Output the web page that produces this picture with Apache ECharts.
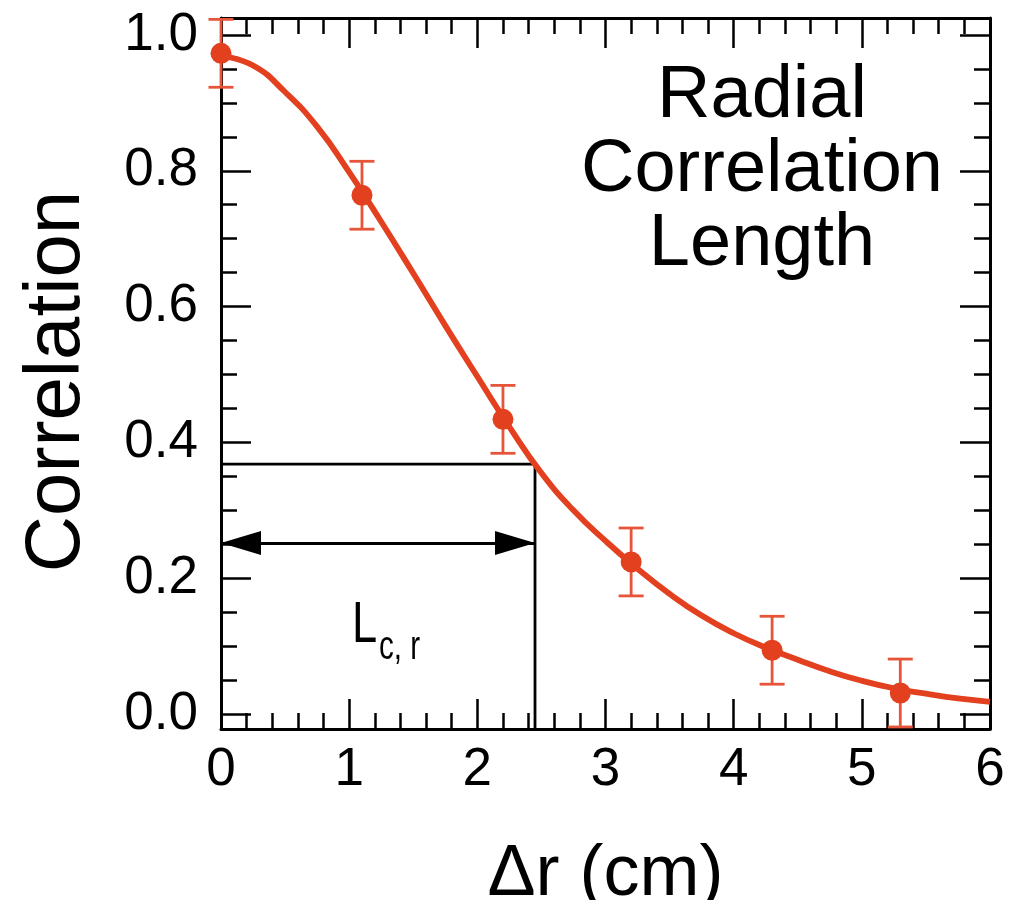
<!DOCTYPE html>
<html><head><meta charset="utf-8">
<script src="https://cdn.jsdelivr.net/npm/echarts@6/dist/echarts.min.js"></script>
<style>html,body{margin:0;padding:0;background:#fff}#c{width:1021px;height:900px}</style>
</head><body><div id="c"></div>
<script>
// ---- data ----
const pointX = [0, 1.1, 2.2, 3.2, 4.3, 5.3];
const pointY = [0.973, 0.764, 0.434, 0.224, 0.094, 0.031];
const pointErr = [0.05, 0.05, 0.05, 0.05, 0.05, 0.05];
const fitX = [0, 0.25, 0.5, 0.75, 1.0, 1.25, 1.5, 1.75, 2.0, 2.25, 2.5, 2.75, 3.0, 3.25, 3.5, 3.75, 4.0, 4.25, 4.5, 4.75, 5.0, 5.25, 5.5, 5.75, 6.0];
const fitY = [0.969, 0.955, 0.916, 0.865, 0.798, 0.725, 0.649, 0.572, 0.497, 0.423, 0.355, 0.300, 0.255, 0.214, 0.177, 0.145, 0.119, 0.098, 0.080, 0.063, 0.049, 0.038, 0.030, 0.023, 0.018];
const lcr = 2.45;          // correlation length
const lcrLevel = 0.368;    // 1/e level
const arrowLevel = 0.252;  // height of the double arrow
const xRange = [0, 6];
const yRange = [-0.022, 1.025];
const annotationText = ['Radial', 'Correlation', 'Length'];
const xTitle = 'Δr (cm)';
const yTitle = 'Correlation';

const FONT = 'Liberation Sans, Arial, Helvetica, sans-serif';
const RED = '#e2401f';
const ERR = '#e6553a';

const chart = echarts.init(document.getElementById('c'), null, {renderer: 'canvas'});

function xAxisCfg(pos, show) {
  return {
    type: 'value', position: pos, min: xRange[0], max: xRange[1], interval: 1,
    name: show ? xTitle : '', nameLocation: 'middle', nameGap: 110,
    nameTextStyle: {fontSize: 72, fontFamily: FONT, color: '#000'},
    axisLine: {show: true, onZero: false, lineStyle: {color: '#000', width: 3}},
    axisTick: {show: true, inside: true, length: 30, lineStyle: {color: '#000', width: 2.5}},
    minorTick: {show: true, splitNumber: 5, length: 16, lineStyle: {color: '#000', width: 2.5}},
    axisLabel: {show: show, fontSize: 53, fontFamily: FONT, color: '#000', margin: 15},
    splitLine: {show: false}, minorSplitLine: {show: false}
  };
}
function yAxisCfg(pos, show) {
  return {
    type: 'value', position: pos, min: yRange[0], max: yRange[1],
    name: show ? yTitle : '', nameLocation: 'middle', nameGap: 125,
    nameTextStyle: {fontSize: 78, fontFamily: FONT, color: '#000', padding: [0, 16, 0, 0]},
    axisLine: {show: true, onZero: false, lineStyle: {color: '#000', width: 3}},
    axisTick: {show: true, inside: true, length: 30, lineStyle: {color: '#000', width: 2.5}},
    minorTick: {show: true, splitNumber: 4, length: 16, lineStyle: {color: '#000', width: 2.5}},
    axisLabel: {show: show, fontSize: 53, fontFamily: FONT, color: '#000', margin: 23,
      showMinLabel: false, showMaxLabel: false,
      formatter: v => (Math.abs(v - Math.round(v * 5) / 5) < 1e-6 ? v.toFixed(1) : '')},
    splitLine: {show: false}, minorSplitLine: {show: false}
  };
}

const errData = pointX.map((x, i) => [x, pointY[i] - pointErr[i], pointY[i] + pointErr[i]]);

const option = {
  animation: false,
  backgroundColor: '#fff',
  grid: {left: 221, right: 31, top: 18, bottom: 171, containLabel: false, outerBoundsMode: 'none'},
  xAxis: [xAxisCfg('bottom', true), xAxisCfg('top', false)],
  yAxis: [yAxisCfg('left', true), yAxisCfg('right', false)],
  series: [
    {
      type: 'line', name: 'box', xAxisIndex: 0, yAxisIndex: 0,
      data: [[0, lcrLevel], [lcr, lcrLevel], [lcr, yRange[0]]],
      showSymbol: false, symbol: 'none',
      lineStyle: {color: '#000', width: 2.8}, z: 3,
      markLine: {
        silent: true, animation: false,
        symbol: ['triangle', 'triangle'], symbolSize: [24, 40],
        symbolOffset: [[0, 20], [0, 20]],
        label: {show: false},
        lineStyle: {color: '#000', width: 2.8, type: 'solid'},
        itemStyle: {color: '#000'},
        data: [[{coord: [0, arrowLevel]}, {coord: [lcr, arrowLevel]}]]
      }
    },
    {
      type: 'line', name: 'fit', data: fitX.map((x, i) => [x, fitY[i]]),
      smooth: 0.5, showSymbol: false, symbol: 'none',
      lineStyle: {color: RED, width: 5.8}, z: 4
    },
    {
      type: 'custom', name: 'err', data: errData, z: 5,
      renderItem: function (params, api) {
        const x = api.value(0);
        const lo = api.coord([x, api.value(1)]);
        const hi = api.coord([x, api.value(2)]);
        const w = 12.5;
        const st = {stroke: ERR, lineWidth: 2.8};
        return {type: 'group', children: [
          {type: 'line', shape: {x1: lo[0], y1: lo[1], x2: hi[0], y2: hi[1]}, style: st},
          {type: 'line', shape: {x1: lo[0] - w, y1: lo[1], x2: lo[0] + w, y2: lo[1]}, style: st},
          {type: 'line', shape: {x1: hi[0] - w, y1: hi[1], x2: hi[0] + w, y2: hi[1]}, style: st}
        ]};
      }
    },
    {
      type: 'scatter', name: 'data', data: pointX.map((x, i) => [x, pointY[i]]),
      symbol: 'circle', symbolSize: 21, itemStyle: {color: RED, opacity: 1}, z: 6
    }
  ],
  graphic: [
    {type: 'text', x: 762, y: 60, z: 10,
     style: {text: annotationText.join('\n'), font: '74px ' + FONT, textAlign: 'center',
       verticalAlign: 'top', lineHeight: 74, fill: '#000'}},
    {type: 'text', x: 352, y: 655, scaleX: 0.78, z: 10,
     style: {text: 'L', font: '58px ' + FONT, textAlign: 'left', verticalAlign: 'bottom', fill: '#000'}},
    {type: 'text', x: 379, y: 668, scaleX: 0.74, z: 10,
     style: {text: 'c, r', font: '40px ' + FONT, textAlign: 'left', verticalAlign: 'bottom', fill: '#000'}}
  ]
};
chart.setOption(option);
</script>
</body></html>
